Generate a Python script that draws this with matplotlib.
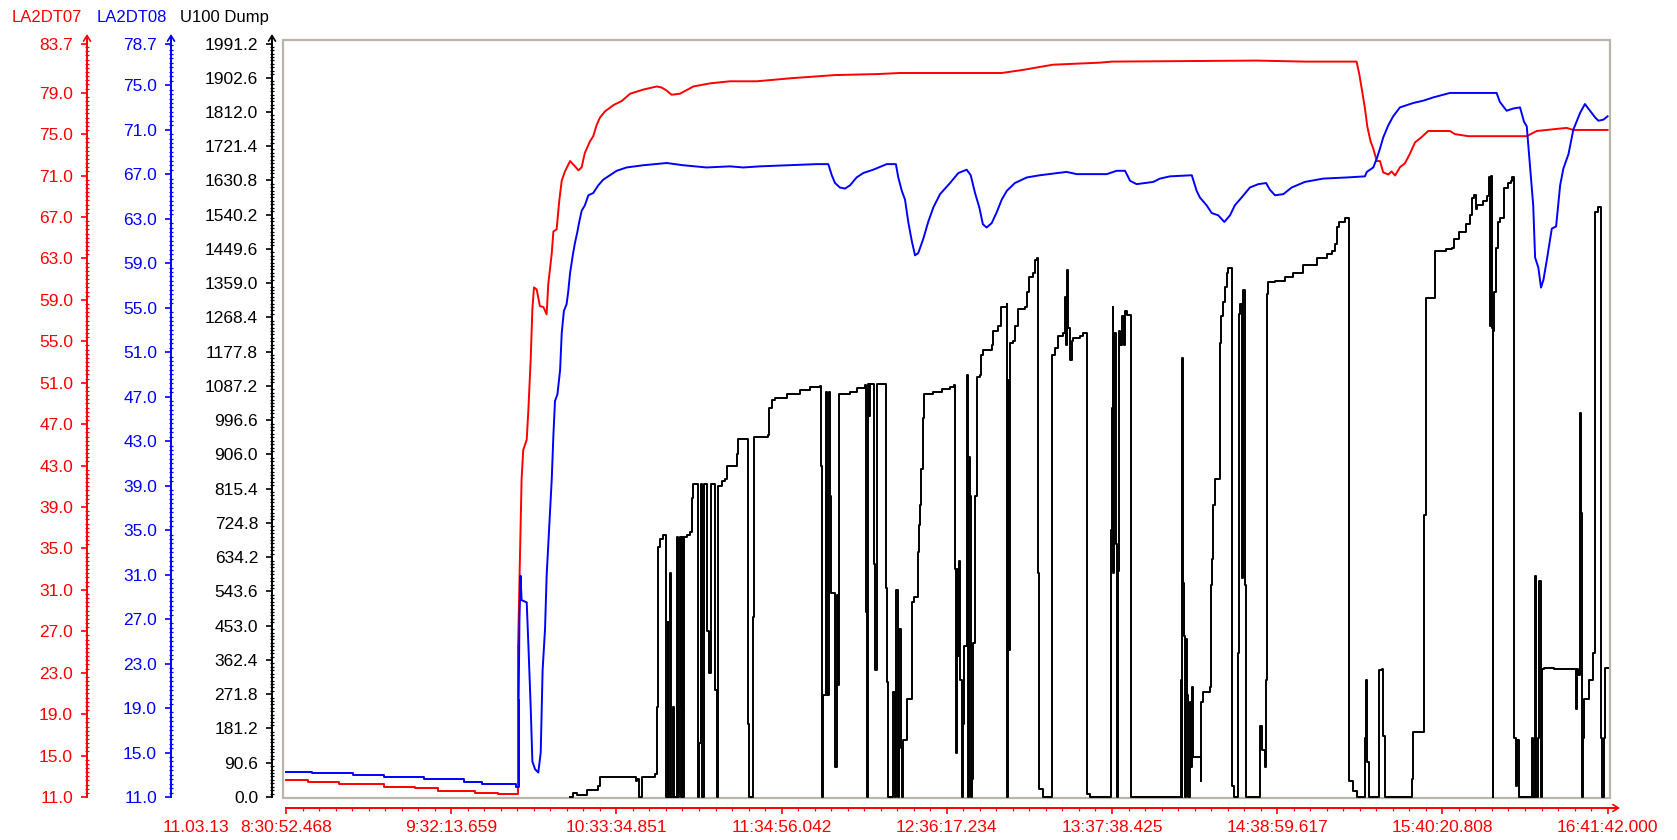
import matplotlib
matplotlib.use('Agg')
import matplotlib.pyplot as plt
from matplotlib.ticker import FixedLocator, NullFormatter
from matplotlib.patches import Rectangle, FancyArrowPatch

plt.rcParams['font.family'] = ['Liberation Sans', 'DejaVu Sans']

# ---------------- data (time = minutes after 11.03.13 08:30:52.468) ----------------
span_min = 490.826          # 08:30:52.468 -> 16:41:42.000
date_label = '11.03.13'
x_tick_labels = ['8:30:52.468', '9:32:13.659', '10:33:34.851', '11:34:56.042',
                 '12:36:17.234', '13:37:38.425', '14:38:59.617', '15:40:20.808',
                 '16:41:42.000']

series_names = ['LA2DT07', 'LA2DT08', 'U100 Dump']

t_red = [0.0, 8.2, 19.7, 36.4, 47.9, 56.3, 70.2, 78.7, 86.2, 86.9, 87.5, 88.1, 89.4, 90.0,
         90.9, 91.5, 92.1, 93.1, 94.3, 95.6, 96.8, 97.4, 98.7, 99.3, 100.5, 101.5, 102.4,
         103.6, 105.5, 107.3, 108.6, 109.8, 111.0, 112.9, 114.1, 115.4, 116.6, 118.5, 121.6,
         124.7, 127.8, 132.7, 137.7, 139.5, 141.4, 143.2, 146.3, 151.3, 157.5, 164.9, 174.8,
         187.8, 203.9, 219.9, 228.0, 265.8, 273.7, 284.8, 302.3, 306.7, 360.5, 378.4, 397.6,
         398.6, 399.5, 400.7, 401.6, 402.8, 403.8, 405.1, 406.3, 407.5, 409.4, 410.6, 411.9,
         413.7, 415.6, 417.4, 419.3, 421.7, 424.2, 432.3, 434.1, 439.1, 460.8, 464.5, 468.2,
         475.6, 478.1, 490.8]
v_red = [12.64, 12.45, 12.25, 11.99, 11.87, 11.61, 11.42, 11.26, 25.6, 34.3, 41.7, 44.5, 45.5,
         48.3, 53.4, 58.1, 60.2, 60.0, 58.4, 58.3, 57.6, 60.5, 63.5, 65.6, 65.8, 68.6, 70.5,
         71.4, 72.4, 71.9, 71.5, 71.8, 73.2, 74.3, 74.8, 75.9, 76.6, 77.2, 77.8, 78.2, 78.9,
         79.3, 79.6, 79.5, 79.2, 78.8, 78.9, 79.6, 79.9, 80.1, 80.1, 80.4, 80.7, 80.8, 80.9,
         80.9, 81.2, 81.7, 81.9, 82.0, 82.1, 82.0, 82.0, 80.8, 79.4, 77.5, 75.7, 74.3, 73.6,
         72.4, 72.4, 71.3, 71.1, 71.4, 71.0, 71.8, 72.2, 73.1, 74.2, 74.7, 75.3, 75.3, 75.0,
         74.8, 74.8, 75.3, 75.4, 75.6, 75.4, 75.4]

t_blue = [0.0, 9.8, 24.8, 36.4, 51.3, 66.1, 72.8, 85.3, 86.4, 86.7,
          87.1, 87.5, 89.4, 90.0, 90.9, 91.5, 92.5, 93.7, 94.6, 95.3,
          96.2, 96.8, 97.8, 98.7, 99.3, 99.9, 100.8, 101.8, 102.4, 103.2,
          104.2, 104.8, 105.5, 106.5, 107.3, 108.2, 108.9, 109.8, 111.0, 112.3,
          114.1, 116.0, 117.8, 120.3, 122.8, 126.5, 132.7, 141.4, 147.5, 156.2,
          164.9, 169.8, 176.0, 197.1, 201.4, 202.7, 203.9, 205.7, 207.6, 209.5,
          211.9, 214.4, 218.1, 223.1, 226.5, 227.4, 228.7, 229.9, 231.1, 232.4,
          233.6, 234.8, 236.7, 238.5, 240.4, 242.9, 246.6, 249.7, 252.8, 254.3,
          255.9, 257.5, 258.8, 260.2, 262.1, 264.0, 265.8, 267.7, 270.7, 275.1,
          280.0, 289.9, 293.7, 304.8, 308.5, 311.6, 313.5, 315.9, 322.1, 324.6,
          328.3, 336.4, 338.2, 339.4, 341.9, 343.8, 346.2, 348.5, 350.6, 352.4,
          354.9, 358.0, 361.1, 364.0, 365.4, 367.3, 370.4, 373.5, 378.4, 385.2,
          393.9, 400.7, 401.4, 403.8, 405.1, 406.3, 407.5, 409.4, 411.2, 413.7,
          418.7, 422.3, 426.1, 432.3, 449.6, 450.8, 453.3, 455.8, 458.3, 459.8,
          460.8, 462.0, 463.2, 463.9, 465.1, 466.1, 467.0, 468.2, 470.1, 471.7,
          473.2, 474.4, 476.3, 478.1, 480.6, 482.4, 484.3, 486.2, 487.4, 489.3,
          490.8]
v_blue = [13.27, 13.13, 12.98, 12.77, 12.59, 12.38, 12.17, 11.93, 19.7, 26.9,
          30.9, 28.7, 28.5, 24.8, 18.9, 14.2, 13.5, 13.2, 15.0, 22.4,
          26.1, 30.9, 35.5, 39.6, 43.5, 46.6, 47.2, 49.4, 52.7, 54.7,
          55.3, 56.4, 58.1, 59.7, 60.8, 61.8, 62.7, 63.7, 64.2, 65.1,
          65.3, 66.0, 66.5, 66.9, 67.3, 67.6, 67.8, 68.0, 67.8, 67.6,
          67.7, 67.6, 67.7, 67.9, 67.9, 66.9, 66.2, 65.8, 65.7, 66.0,
          66.7, 67.1, 67.4, 67.9, 67.9, 66.7, 65.5, 64.7, 62.7, 61.0,
          59.7, 59.9, 61.2, 62.7, 64.0, 65.2, 66.2, 67.1, 67.4, 66.9,
          65.3, 64.0, 62.5, 62.2, 62.6, 63.6, 64.7, 65.5, 66.2, 66.7,
          66.9, 67.2, 67.0, 67.0, 67.3, 67.3, 66.4, 66.1, 66.3, 66.6,
          66.8, 66.9, 65.5, 64.9, 64.2, 63.5, 63.3, 62.7, 63.3, 64.2,
          64.9, 65.8, 66.1, 66.2, 65.6, 65.1, 65.2, 65.8, 66.3, 66.6,
          66.7, 66.8, 67.2, 67.6, 68.4, 69.3, 70.3, 71.4, 72.2, 73.0,
          73.4, 73.6, 73.9, 74.3, 74.3, 73.5, 72.7, 72.9, 73.0, 71.7,
          71.3, 67.7, 64.2, 59.5, 58.6, 56.8, 57.5, 59.2, 62.1, 62.3,
          66.0, 67.5, 68.8, 71.0, 72.5, 73.3, 72.7, 72.1, 71.8, 71.9,
          72.2]

t_dump = [105.5, 106.7, 108.0, 111.7, 116.0, 116.6, 130.0, 130.5, 131.2, 132.1,
          137.0, 137.7, 137.9, 138.3, 138.9, 139.9, 141.0, 141.8, 142.0, 142.6,
          143.0, 143.6, 144.1, 145.1, 145.7, 146.0, 146.3, 146.7, 147.1, 147.5,
          147.9, 148.8, 150.0, 150.7, 151.3, 153.0, 153.5, 154.0, 154.6, 155.2,
          156.2, 157.1, 157.7, 159.3, 159.9, 160.5, 161.8, 163.0, 163.7, 167.4,
          168.0, 171.5, 171.9, 173.3, 173.9, 179.1, 179.5, 180.4, 181.6, 186.0,
          190.9, 194.6, 198.3, 198.7, 199.0, 199.5, 200.5, 200.8, 201.0, 201.5,
          202.0, 202.4, 203.9, 204.5, 205.1, 205.5, 209.5, 211.9, 215.0, 215.4,
          215.7, 216.0, 216.5, 216.9, 218.4, 218.9, 219.6, 222.8, 223.3, 223.7,
          225.5, 226.2, 226.5, 227.2, 227.8, 228.3, 228.8, 229.0, 230.5, 232.4,
          233.2, 234.6, 235.2, 235.5, 235.8, 236.5, 237.0, 240.4, 243.5, 246.6,
          248.1, 248.4, 248.7, 249.1, 249.4, 249.8, 250.2, 250.3, 251.0, 251.3,
          251.8, 252.8, 253.1, 253.4, 253.8, 254.0, 254.4, 254.9, 255.3, 255.9,
          256.5, 257.7, 258.1, 259.0, 262.1, 262.7, 264.6, 265.5, 267.7, 267.9,
          268.3, 268.5, 268.9, 270.1, 270.7, 272.0, 274.5, 275.3, 276.0, 277.5,
          278.2, 278.8, 279.2, 279.5, 281.2, 284.6, 285.6, 286.8, 288.7, 289.3,
          289.7, 290.2, 290.5, 291.2, 291.8, 292.4, 294.9, 296.1, 297.4, 298.6,
          306.3, 306.7, 307.0, 307.2, 307.6, 308.1, 308.5, 309.1, 309.5, 309.7,
          310.4, 311.2, 311.6, 312.2, 313.7, 332.3, 332.6, 332.9, 333.1, 333.5,
          333.9, 334.3, 334.5, 334.9, 335.7, 336.1, 336.4, 336.8, 337.0, 339.7,
          339.9, 340.7, 343.2, 343.4, 343.8, 344.4, 345.1, 346.7, 347.2, 347.9,
          348.8, 349.4, 350.0, 351.3, 352.2, 353.6, 353.8, 354.3, 355.1, 355.5,
          356.3, 356.5, 361.7, 362.4, 363.6, 364.0, 364.2, 364.4, 364.8, 367.3,
          371.0, 374.1, 377.8, 382.8, 386.5, 388.4, 389.6, 390.2, 391.1, 393.3,
          394.6, 394.9, 396.4, 397.6, 400.7, 401.1, 401.6, 402.3, 406.1, 407.1,
          407.5, 408.0, 418.3, 418.5, 422.6, 423.2, 426.7, 430.7, 433.2, 433.8,
          435.7, 438.2, 439.8, 440.6, 441.2, 441.9, 442.5, 444.4, 446.2, 446.8,
          447.2, 447.5, 447.8, 448.1, 448.3, 448.7, 449.3, 450.0, 450.9, 452.4,
          453.7, 454.9, 455.5, 455.9, 456.1, 456.8, 457.1, 458.0, 462.9, 463.3,
          463.7, 464.2, 465.0, 465.5, 466.0, 466.6, 467.2, 470.9, 479.0, 479.4,
          479.9, 480.4, 480.9, 481.2, 481.6, 482.1, 484.0, 485.3, 486.2, 487.1,
          488.4, 488.7, 489.4, 489.9, 490.8]
v_dump = [0, 11, 4, 18, 28, 53, 41, 48, 0, 53,
          60, 79, 239, 662, 681, 692, 0, 464, 0, 592,
          0, 239, 0, 688, 0, 239, 688, 0, 688, 0,
          688, 694, 701, 791, 829, 0, 143, 829, 0, 829,
          438, 329, 829, 284, 0, 822, 836, 842, 876, 906,
          948, 194, 0, 476, 951, 957, 1028, 1051, 1056, 1066,
          1076, 1083, 1088, 874, 0, 271, 1072, 772, 271, 1072,
          797, 540, 79, 534, 297, 1066, 1072, 1081, 1089, 489,
          0, 1092, 1008, 1092, 617, 336, 1092, 553, 304, 0,
          278, 0, 547, 0, 444, 130, 0, 150, 259, 516,
          528, 649, 720, 772, 867, 1002, 1066, 1072, 1079, 1085,
          1089, 604, 117, 604, 374, 624, 374, 309, 0, 194,
          399, 784, 1117, 0, 899, 797, 0, 48, 406, 797,
          1111, 1117, 1169, 1182, 1194, 1233, 1245, 1297, 1304, 0,
          1104, 389, 1200, 1207, 1245, 1290, 1297, 1335, 1374, 1386,
          1419, 1425, 592, 21, 0, 1169, 1188, 1220, 1226, 1322,
          1194, 1393, 1239, 1155, 1207, 1214, 1220, 1226, 9, 0,
          707, 1028, 1297, 592, 1226, 669, 0, 598, 1233, 1194,
          1271, 1194, 1284, 1274, 0, 309, 0, 1162, 566, 426,
          0, 419, 271, 0, 252, 79, 291, 150, 107, 41,
          252, 278, 291, 560, 630, 772, 842, 1200, 1271, 1309,
          1348, 1386, 1399, 28, 0, 381, 1277, 1304, 579, 1342,
          561, 0, 188, 124, 79, 309, 643, 1329, 1361, 1364,
          1374, 1386, 1406, 1425, 1435, 1444, 1463, 1508, 1521, 1530,
          1104, 41, 15, 0, 156, 309, 93, 0, 336, 338,
          162, 0, 48, 172, 746, 1320, 1444, 1448, 1453, 1476,
          1495, 1515, 1540, 1585, 1592, 1556, 1566, 1576, 1589, 1640,
          1245, 1643, 1239, 0, 1233, 1335, 1451, 1521, 1530, 1611,
          1623, 1630, 1639, 842, 156, 28, 150, 0, 156, 0,
          585, 0, 156, 572, 0, 338, 342, 338, 233, 338,
          323, 1015, 752, 0, 156, 259, 309, 381, 1547, 1560,
          156, 0, 156, 342, 342]

red_ticks = [11.0, 15.0, 19.0, 23.0, 27.0, 31.0, 35.0, 39.0, 43.0, 47.0, 51.0, 55.0,
             59.0, 63.0, 67.0, 71.0, 75.0, 79.0, 83.7]
blue_ticks = [11.0, 15.0, 19.0, 23.0, 27.0, 31.0, 35.0, 39.0, 43.0, 47.0, 51.0, 55.0,
              59.0, 63.0, 67.0, 71.0, 75.0, 78.7]
dump_ticks = [0.0, 90.6, 181.2, 271.8, 362.4, 453.0, 543.6, 634.2, 724.8, 815.4, 906.0,
              996.6, 1087.2, 1177.8, 1268.4, 1359.0, 1449.6, 1540.2, 1630.8, 1721.4,
              1812.0, 1902.6, 1991.2]

RED, BLUE, BLACK = '#ff0000', '#0000ff', '#000000'
FRAME = '#b9b5a9'

# ---------------- layout (pixels of the 1677x840 picture) ----------------
W, H = 1677, 840
L, R, T, B = 283, 1610, 40, 798          # plot frame
X0, X1 = 286, 1607.6                      # first / last time tick
Y0, Y1 = 797, 44                          # axis minimum / maximum value rows
fig = plt.figure(figsize=(W / 100, H / 100), dpi=100)
ax = fig.add_axes([L / W, 1 - B / H, (R - L) / W, (B - T) / H])

ppm = (X1 - X0) / span_min
ax.set_xlim(-(X0 - L) / ppm, span_min + (R - X1) / ppm)


def ylim_for(vmin, vmax):
    ppu = (Y0 - Y1) / (vmax - vmin)
    return (vmin - (B - Y0) / ppu, vmax + (Y1 - T) / ppu), ppu


axr = ax.twinx()
axb = ax.twinx()

FS = 12.5
axes_spec = [
    (axr, red_ticks, RED, 87, 0.4),
    (axb, blue_ticks, BLUE, 171, 0.4),
    (ax, dump_ticks, BLACK, 272, 9.06),
]
for a, ticks, col, xpx, minor in axes_spec:
    (lo, hi), ppu = ylim_for(ticks[0], ticks[-1])
    a.set_ylim(lo, hi)
    for s in ['top', 'right', 'bottom']:
        if not (a is ax and s == 'bottom'):
            a.spines[s].set_visible(False)
    sp = a.spines['left']
    sp.set_visible(True)
    sp.set_position(('axes', (xpx - L) / (R - L)))
    sp.set_color(col)
    sp.set_linewidth(1.4)
    sp.set_bounds(ticks[0], ticks[0] + (Y0 - 37) / ppu)
    a.yaxis.set_ticks_position('left')
    a.yaxis.set_label_position('left')
    a.yaxis.set_major_locator(FixedLocator(ticks))
    a.set_yticklabels(['%.1f' % v for v in ticks])
    mins = []
    v = ticks[0]
    while v < ticks[-1] - 1e-6:
        mins.append(v)
        v += minor
    a.yaxis.set_minor_locator(FixedLocator(mins))
    a.yaxis.set_minor_formatter(NullFormatter())
    a.tick_params(axis='y', which='major', direction='out', length=4, width=1.2,
                  pad=6, labelsize=FS, colors=col)
    a.tick_params(axis='y', which='minor', direction='inout', length=2.5, width=0.9,
                  colors=col)
    # arrow head at top of each value axis
    fig.add_artist(FancyArrowPatch(
        (xpx, H - 46), (xpx, H - 34), transform=None,
        arrowstyle='->,head_length=4,head_width=2.5',
        color=col, lw=1.2, shrinkA=0, shrinkB=0, mutation_scale=1))

# time axis (red, below the frame)
bsp = ax.spines['bottom']
bsp.set_position(('outward', (808 - B) * 0.72))
bsp.set_color(RED)
bsp.set_linewidth(1.4)
bsp.set_bounds(0, (1617 - X0) / ppm)
step = span_min / 8
ax.xaxis.set_major_locator(FixedLocator([i * step for i in range(9)]))
ax.set_xticklabels(x_tick_labels)
ax.xaxis.set_minor_locator(FixedLocator([i * step / 10 for i in range(81)]))
ax.xaxis.set_minor_formatter(NullFormatter())
ax.tick_params(axis='x', which='major', direction='out', length=4.5, width=1.2,
               pad=4, labelsize=FS, colors=RED)
ax.tick_params(axis='x', which='minor', direction='out', length=2.5, width=0.9, colors=RED)
fig.add_artist(FancyArrowPatch(
    (1607, H - 808), (1620, H - 808), transform=None,
    arrowstyle='->,head_length=4,head_width=2.5',
    color=RED, lw=1.2, shrinkA=0, shrinkB=0, mutation_scale=1))
ax.annotate(date_label, xy=(0, 0), xycoords=ax.get_xaxis_transform(),
            xytext=(-57, -(10 + 4.5 / 0.72 + 4 / 0.72)), textcoords='offset pixels',
            ha='right', va='top', fontsize=FS, color=RED, annotation_clip=False)

# plot frame
ax.add_patch(Rectangle((0, 0), 1, 1, transform=ax.transAxes, fill=False,
                       edgecolor=FRAME, lw=1.6, clip_on=False, zorder=0.5))

# series: the logged low-level part before the jump is a staircase, the rest a polyline
ax.plot(t_dump, v_dump, drawstyle='steps-post', color=BLACK, lw=1.4)
for a, tt, vv, col in [(axr, t_red, v_red, RED), (axb, t_blue, v_blue, BLUE)]:
    k = next(i for i in range(1, len(vv)) if vv[i] - vv[i - 1] > 3)
    a.plot(tt[:k + 1], vv[:k + 1], drawstyle='steps-post', color=col, lw=1.4)
    a.plot(tt[k:], vv[k:], color=col, lw=1.4)

# series names above the value axes
name_x = [12, 97, 180]
for nm, col, xp in zip(series_names, [RED, BLUE, BLACK], name_x):
    fig.text(xp / W, 1 - 21.7 / H, nm, ha='left', va='baseline', fontsize=12, color=col)

fig.savefig('out.png', dpi=100)
